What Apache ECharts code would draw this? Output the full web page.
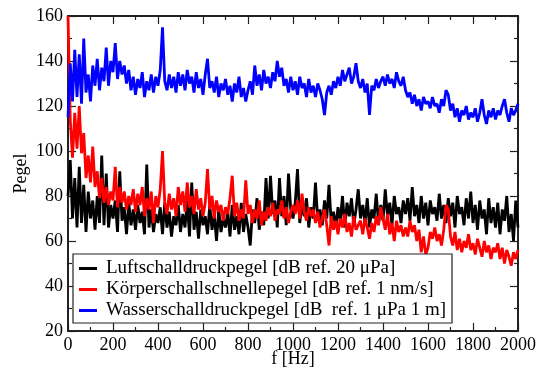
<!DOCTYPE html>
<html>
<head>
<meta charset="utf-8">
<script src="https://cdn.jsdelivr.net/npm/echarts@6/dist/echarts.min.js"></script>
<style>
    html, body { margin: 0; padding: 0; background: #fff; }
    #chart { width: 544px; height: 370px; }
</style>
</head>
<body>
<div id="chart"></div>
<script>
// frequency spacing of the samples [Hz], first sample at 0 Hz
const freqStep = 10;

const seriesNames = [
    "Luftschalldruckpegel [dB ref. 20 μPa]",
    "Körperschallschnellepegel [dB ref. 1 nm/s]",
    "Wasserschalldruckpegel [dB  ref. 1 μPa 1 m]",
];

// Luftschall, one row = 100 Hz
const luft = [
    80, 96, 70, 88, 66, 93, 68, 85, 64, 82,
    70, 78, 65, 80, 68, 98, 67, 90, 66, 76,
    70, 78, 64, 91, 69, 75, 63, 77, 67, 74,
    65, 76, 68, 73, 63, 94, 66, 74, 64, 72,
    68, 75, 63, 77, 66, 73, 62, 71, 67, 76,
    64, 72, 66, 78, 62, 86, 65, 73, 61, 74,
    67, 71, 63, 76, 65, 72, 60, 74, 64, 70,
    66, 73, 62, 76, 65, 71, 63, 77, 64, 72,
    66, 58, 74, 68, 79, 65, 73, 67, 88, 70,
    89, 72, 78, 66, 88, 71, 80, 67, 90, 74,
    70, 77, 92, 68, 76, 71, 79, 66, 75, 70,
    86, 69, 74, 67, 78, 70, 85, 68, 73, 66,
    75, 69, 80, 66, 77, 71, 79, 67, 74, 83,
    70, 76, 68, 79, 66, 74, 70, 81, 68, 76,
    69, 83, 71, 77, 67, 80, 72, 75, 68, 78,
    72, 79, 69, 84, 71, 76, 68, 80, 70, 77,
    67, 78, 72, 75, 69, 81, 70, 76, 68, 79,
    71, 77, 66, 80, 72, 75, 67, 79, 70, 82,
    68, 76, 65, 78, 70, 74, 63, 79, 68, 75,
    66, 77, 63, 74, 69, 80, 64, 72, 60, 78,
    66
];

// Koerperschall
const koerper = [
    160, 114, 97, 117, 101, 120, 99, 108, 88, 98,
    86, 102, 84, 91, 79, 88, 77, 84, 76, 82,
    78, 93, 75, 84, 77, 82, 74, 80, 76, 83,
    73, 81, 76, 84, 71, 79, 74, 82, 68, 80,
    75, 83, 100, 77, 72, 81, 74, 79, 71, 84,
    76, 82, 73, 86, 75, 80, 72, 83, 74, 79,
    71, 77, 92, 74, 80, 70, 78, 73, 76, 69,
    75, 72, 79, 89, 71, 77, 69, 74, 70, 87,
    72, 76, 68, 74, 70, 78, 67, 73, 69, 75,
    71, 77, 69, 74, 72, 78, 70, 75, 68, 73,
    76, 72, 78, 70, 81, 73, 69, 75, 71, 74,
    68, 73, 66, 70, 74, 67, 58, 71, 65, 69,
    63, 70, 66, 72, 64, 68, 62, 71, 65, 67,
    69, 63, 70, 66, 61, 68, 64, 71, 67, 75,
    70, 65, 72, 63, 68, 60, 69, 64, 67, 62,
    66, 62, 69, 64, 67, 60, 65, 55, 62, 54,
    57, 64, 61, 66, 60, 63, 58, 65, 76, 74,
    62, 58, 64, 56, 61, 55, 60, 57, 63, 56,
    59, 54, 61, 57, 53, 60, 55, 58, 52, 57,
    55, 59, 52, 57, 50, 56, 53, 49, 55, 52,
    56
];

// Wasserschall
const wasser = [
    115, 139, 122, 145, 124, 143, 121, 150, 126, 134,
    122, 138, 129, 141, 127, 137, 131, 146, 129, 140,
    135, 148, 132, 140, 134, 138, 130, 136, 127, 133,
    125, 132, 128, 135, 124, 131, 127, 134, 126, 133,
    129, 136, 155, 131, 127, 134, 128, 133, 126, 135,
    129, 134, 127, 136, 130, 133, 126, 135, 128, 132,
    125, 134, 141, 128, 131, 126, 133, 124, 130, 127,
    132, 125, 129, 122, 130, 126, 133, 124, 128, 122,
    127, 131, 125, 138, 129, 134, 127, 136, 130, 133,
    128, 135, 131, 140, 133, 137, 129, 132, 126, 133,
    127, 131, 125, 133, 128, 130, 124, 132, 126, 129,
    124, 130, 127, 123, 116, 126, 129, 125, 131, 128,
    133, 129, 136, 131, 134, 137, 130, 133, 139, 131,
    128, 132, 126, 130, 116, 129, 127, 132, 128, 131,
    133, 129, 134, 130, 132, 128, 135, 131, 129, 133,
    127, 124, 126, 121, 125, 120, 123, 118, 124, 121,
    122, 119, 124, 120, 121, 117, 123, 120, 127, 125,
    118, 121, 115, 119, 113, 118, 116, 120, 114, 117,
    115, 119, 113, 117, 123, 116, 112, 118, 115, 119,
    114, 118, 116, 120, 123, 117, 113, 119, 116, 118,
    121
];

const colors = ["#000000", "#ff0000", "#0000ff"];

const font = "'Liberation Serif', 'DejaVu Serif', serif";

function toPairs(values) {
    return values.map((v, i) => [i * freqStep, v]);
}

const frameAxis = {
    axisLine: { show: true, onZero: false, lineStyle: { color: "#222", width: 2 } },
    axisTick: { show: true, inside: true, length: 8, lineStyle: { color: "#222", width: 1.2 } },
    minorTick: { show: true, splitNumber: 2, length: 4, lineStyle: { color: "#222", width: 1.2 } },
    splitLine: { show: false },
};

const tickLabel = { fontFamily: font, fontSize: 18, color: "#000", margin: 5, formatter: (v) => String(v) };

const xBase = Object.assign({ type: "value", min: 0, max: 2000, interval: 200 }, frameAxis);
const yBase = Object.assign({ type: "value", min: 20, max: 160, interval: 20 }, frameAxis);

const option = {
    animation: false,
    color: colors,
    textStyle: { fontFamily: font },
    grid: { left: 68, right: 26, top: 16, bottom: 39, outerBoundsMode: "none" },
    legend: {
        orient: "vertical",
        left: 73,
        top: 254,
        padding: [5, 6, 3, 6],
        itemGap: 2,
        itemWidth: 18,
        itemHeight: 3,
        icon: "rect",
        borderColor: "#222",
        borderWidth: 1.2,
        backgroundColor: "#fff",
        borderRadius: 0,
        textStyle: { fontFamily: font, fontSize: 19, color: "#000", lineHeight: 19, padding: [0, 0, 0, 4] },
        data: seriesNames,
    },
    xAxis: [
        Object.assign({}, xBase, {
            position: "bottom",
            name: "f [Hz]",
            nameLocation: "middle",
            nameGap: 19,
            nameMoveOverlap: false,
            nameTextStyle: { fontFamily: font, fontSize: 18, color: "#000" },
            axisLabel: tickLabel,
        }),
        Object.assign({}, xBase, { position: "top", axisLabel: { show: false } }),
    ],
    yAxis: [
        Object.assign({}, yBase, {
            position: "left",
            name: "Pegel",
            nameLocation: "middle",
            nameGap: 38,
            nameMoveOverlap: false,
            nameTextStyle: { fontFamily: font, fontSize: 18, color: "#000" },
            axisLabel: tickLabel,
        }),
        Object.assign({}, yBase, { position: "right", axisLabel: { show: false } }),
    ],
    series: [luft, koerper, wasser].map((values, idx) => ({
        name: seriesNames[idx],
        type: "line",
        showSymbol: false,
        data: toPairs(values),
        lineStyle: { width: 2.8, color: colors[idx] },
        itemStyle: { color: colors[idx] },
        z: 2 + idx,
    })),
};

const chart = echarts.init(document.getElementById("chart"));
chart.setOption(option);
</script>
</body>
</html>
